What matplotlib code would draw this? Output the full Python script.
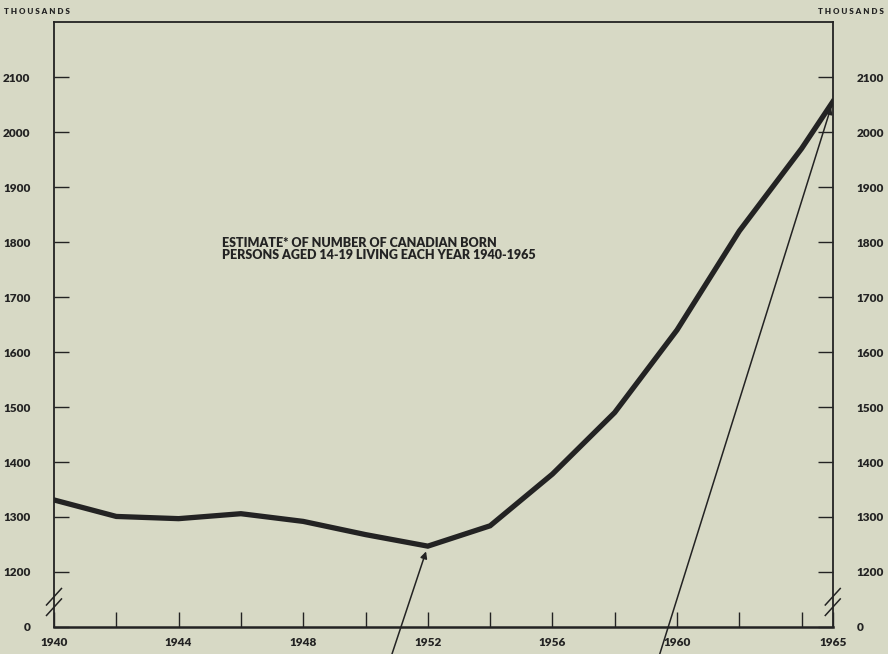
import matplotlib
matplotlib.use("Agg")
from matplotlib import pyplot as plt

# data (thousands of persons)
years = [1940, 1942, 1944, 1946, 1948, 1950, 1952, 1954, 1956, 1958, 1960, 1962, 1964, 1965]
persons = [1331, 1301, 1297, 1306, 1292, 1268, 1247, 1284, 1378, 1490, 1640, 1820, 1970, 2055]

xtick_pos = [1940, 1942, 1944, 1946, 1948, 1950, 1952, 1954, 1956, 1958, 1960, 1962, 1964, 1965]
xtick_lab = ["1940", "", "1944", "", "1948", "", "1952", "", "1956", "", "1960", "", "", "1965"]
ytick_pos = [1100, 1200, 1300, 1400, 1500, 1600, 1700, 1800, 1900, 2000, 2100]
ytick_lab = ["0", "1200", "1300", "1400", "1500", "1600", "1700", "1800", "1900", "2000", "2100"]

title = "ESTIMATE* OF NUMBER OF CANADIAN BORN\nPERSONS AGED 14-19 LIVING EACH YEAR 1940-1965"

bg = "#d7d9c5"
ink = "#232323"
wt = 'heavy'

plt.rcParams['font.family'] = ['Lato', 'DejaVu Sans']

fig = plt.figure(figsize=(8.88, 6.54), dpi=100, facecolor=bg)
ax = fig.add_axes([0.0608, 0.0413, 0.877, 0.925], facecolor=bg)

ax.plot(years, persons, color=ink, lw=3.8, solid_joinstyle='miter', zorder=3)

ax.set_xlim(1940, 1965)
ax.set_ylim(1100, 2200)
ax.set_xticks(xtick_pos)
ax.set_xticklabels(xtick_lab, fontweight=wt)
ax.set_yticks(ytick_pos)
ax.set_yticklabels(ytick_lab, fontweight=wt)

for s in ax.spines.values():
    s.set_color(ink)
    s.set_linewidth(1.3)
ax.spines['bottom'].set_linewidth(1.8)

ax.tick_params(axis='x', direction='in', length=11, width=1, color=ink,
               labelsize=8.5, labelcolor=ink, pad=7, top=False)
ax.tick_params(axis='y', direction='in', length=11, width=1, color=ink,
               labelsize=8.5, labelcolor=ink, pad=17, left=True, right=True,
               labelleft=True, labelright=True)
for lab in ax.get_yticklabels(which='both'):
    lab.set_fontweight(wt)

# axis break marks
for xb in (1940, 1965):
    for yb in (1136, 1155):
        ax.plot([xb - 0.24, xb + 0.24], [yb - 15, yb + 15], color=ink, lw=1.1,
                clip_on=False, zorder=4)

ax.text(1945.4, 1787, title, fontsize=9, fontweight=wt, color=ink,
        va='center', ha='left', linespacing=1.05)

fig.text(0.004, 0.982, "T H O U S A N D S", fontsize=5.8, fontweight=wt, color=ink,
         ha='left', va='center')
fig.text(0.995, 0.982, "T H O U S A N D S", fontsize=5.8, fontweight=wt, color=ink,
         ha='right', va='center')

# arrows pointing at 1952 and 1965 values
arrow = dict(arrowstyle='-|>', color=ink, lw=1.1, mutation_scale=10, shrinkA=0, shrinkB=4)
ax.annotate("", xy=(years[6], persons[6]), xycoords='data',
            xytext=(388, -12), textcoords='figure pixels',
            arrowprops=arrow, annotation_clip=False)
ax.annotate("", xy=(years[-1], persons[-1]), xycoords='data',
            xytext=(656, -12), textcoords='figure pixels',
            arrowprops=arrow, annotation_clip=False)

fig.savefig("out.png", dpi=100, facecolor=bg)
